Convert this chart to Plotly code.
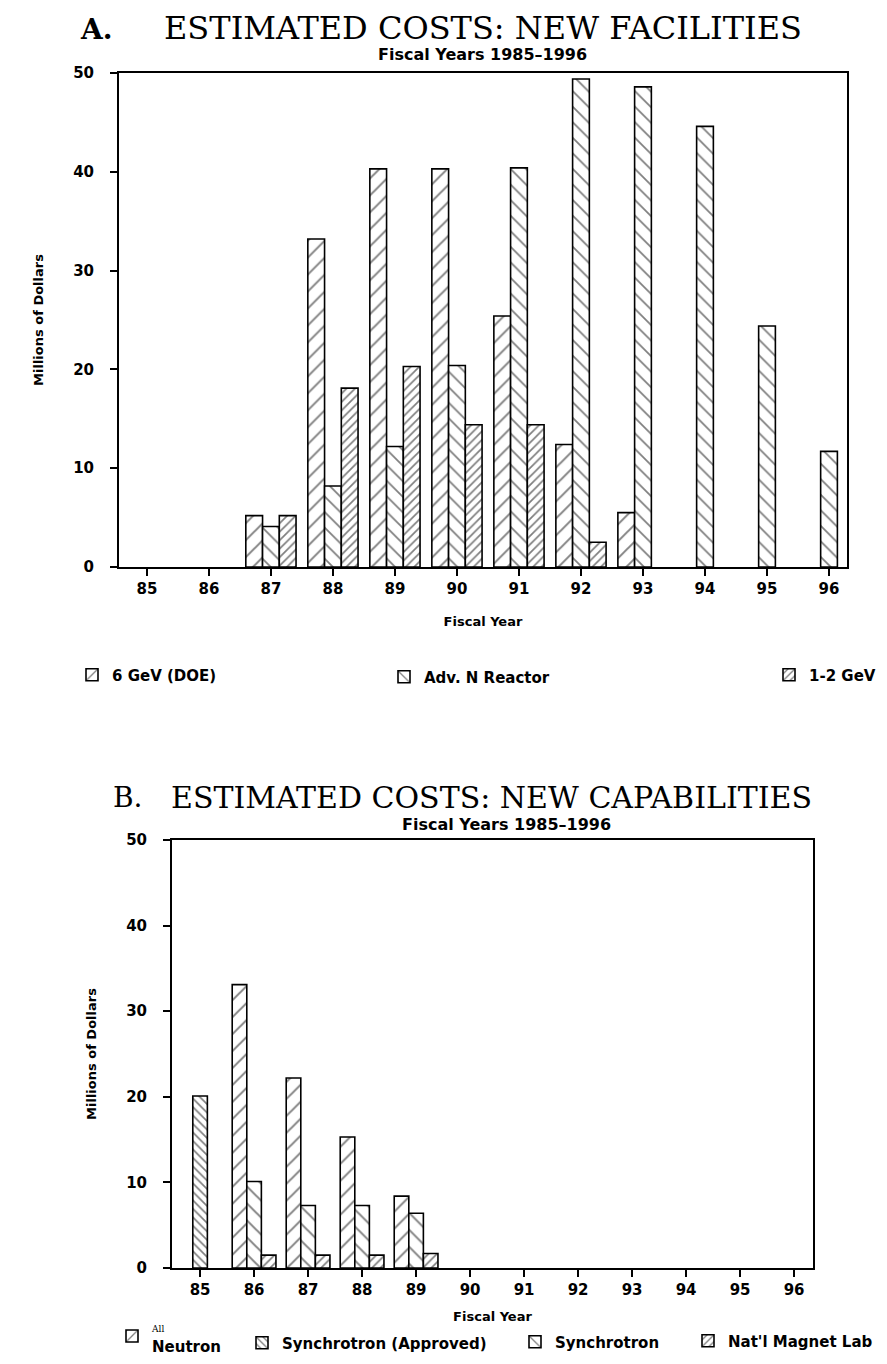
import plotly.graph_objects as go

# Browser window is 887x1364; the page body has an 8 px margin, so the figure
# is made 16 px smaller in each direction (no scrollbars) and offset by 8 px.
WIN_W, WIN_H = 887, 1364
PAGE_OFFSET = 8
W, H = WIN_W - 2 * PAGE_OFFSET, WIN_H - 2 * PAGE_OFFSET

# ---------------- data ----------------
years = [85, 86, 87, 88, 89, 90, 91, 92, 93, 94, 95, 96]
year_labels = ["85", "86", "87", "88", "89", "90", "91", "92", "93", "94", "95", "96"]
y_ticks = [0, 10, 20, 30, 40, 50]

# Panel A: new facilities (millions of dollars)
gev6_doe = [None, None, 5.2, 33.2, 40.3, 40.3, 25.4, 12.4, 5.5, None, None, None]
adv_n_reactor = [None, None, 4.1, 8.2, 12.2, 20.4, 40.4, 49.4, 48.6, 44.6, 24.4, 11.7]
gev1_2 = [None, None, 5.2, 18.1, 20.3, 14.4, 14.4, 2.5, None, None, None, None]

# Panel B: new capabilities (millions of dollars)
all_neutron = [None, 33.1, 22.2, 15.3, 8.4, None, None, None, None, None, None, None]
synch_approved = [20.1, None, None, None, None, None, None, None, None, None, None, None]
synchrotron = [None, 10.1, 7.3, 7.3, 6.4, None, None, None, None, None, None, None]
magnet_lab = [None, 1.5, 1.5, 1.5, 1.7, None, None, None, None, None, None, None]

# ---------------- helpers ----------------
def px_x(p):
    return (p - PAGE_OFFSET) / W

def px_y(p):
    return 1 - (p - PAGE_OFFSET) / H

SANS = "DejaVu Sans"
SERIF = "DejaVu Serif"

def bar(name, x, y, xa, ya, shape, size, solidity, legend, offsetgroup):
    return go.Bar(
        name=name, x=x, y=y, xaxis=xa, yaxis=ya,
        offsetgroup=offsetgroup, legend=legend,
        marker=dict(
            color="white",
            line=dict(color="black", width=1.6),
            pattern=dict(shape=shape, size=size, solidity=solidity,
                         fgcolor="black", bgcolor="white", fillmode="overlay"),
        ),
        hoverinfo="x+y+name",
    )

fig = go.Figure()

# Panel A
fig.add_trace(bar("6 GeV (DOE)", years, gev6_doe, "x", "y", "/", 12, 0.16, "legend", "a1"))
fig.add_trace(bar("Adv. N Reactor", years, adv_n_reactor, "x", "y", "\\", 11, 0.16, "legend2", "a2"))
fig.add_trace(bar("1-2 GeV", years, gev1_2, "x", "y", "/", 6, 0.28, "legend3", "a3"))

# Panel B
fig.add_trace(bar("<span style='font-family:DejaVu Serif;font-size:9px;font-weight:normal'>All</span><br>Neutron",
                  years, all_neutron, "x2", "y2", "/", 12, 0.16, "legend4", "b1"))
fig.add_trace(bar("Synchrotron (Approved)", years, synch_approved, "x2", "y2", "\\", 6, 0.28, "legend5", "b2"))
fig.add_trace(bar("Synchrotron", years, synchrotron, "x2", "y2", "\\", 12, 0.16, "legend6", "b2"))
fig.add_trace(bar("Nat'l Magnet Lab", years, magnet_lab, "x2", "y2", "/", 6, 0.28, "legend7", "b3"))

tick_font = dict(family=SANS, size=15, color="black", weight="bold")
title_font = dict(family=SANS, size=13, color="black", weight="bold")

def xaxis(domain, rng, standoff):
    return dict(
        domain=domain, range=rng, tickmode="array", tickvals=years, ticktext=year_labels,
        showline=True, linecolor="black", linewidth=2, mirror=True,
        ticks="outside", ticklen=7, tickwidth=1.5, tickcolor="black",
        tickfont=tick_font, showgrid=False, zeroline=False,
        title=dict(text="Fiscal Year", font=title_font, standoff=standoff),
        fixedrange=True, automargin=False,
    )

def yaxis(domain, anchor):
    return dict(
        domain=domain, range=[0, 50], tickmode="array", tickvals=y_ticks,
        showline=True, linecolor="black", linewidth=2, mirror=True,
        ticks="outside", ticklen=7, tickwidth=1.5, tickcolor="black",
        ticklabelstandoff=13,
        tickfont=tick_font, showgrid=False, zeroline=False, anchor=anchor,
        title=dict(text="Millions of Dollars", font=title_font, standoff=27),
        fixedrange=True, automargin=False,
    )

legend_common = dict(
    orientation="h", xanchor="left", yanchor="middle",
    font=dict(family=SANS, size=15, color="black", weight="bold"),
    bgcolor="rgba(0,0,0,0)", borderwidth=0,
)

def leg(text_left_px, y_px):
    d = dict(legend_common)
    d.update(x=px_x(text_left_px - 41), y=px_y(y_px))
    return d

fig.update_layout(
    width=W, height=H,
    margin=dict(l=0, r=0, t=0, b=0, autoexpand=False),
    paper_bgcolor="white", plot_bgcolor="white",
    barmode="group", bargap=0.19, bargroupgap=0.0,
    xaxis=xaxis([px_x(119), px_x(847)], [84.55, 96.29], 20) | dict(anchor="y"),
    yaxis=yaxis([px_y(567), px_y(73)], "x"),
    xaxis2=xaxis([px_x(172), px_x(813)], [84.48, 96.35], 14) | dict(anchor="y2"),
    yaxis2=yaxis([px_y(1268), px_y(840)], "x2"),
    legend=leg(113, 675),
    legend2=leg(425, 677),
    legend3=leg(810, 675),
    legend4=leg(153, 1336),
    legend5=leg(283, 1343),
    legend6=leg(556, 1342),
    legend7=leg(729, 1341),
    showlegend=True,
)

annotations = [
    dict(text="A.", x=px_x(96), y=px_y(29), font=dict(family=SERIF, size=28, color="black", weight="bold")),
    dict(text="ESTIMATED COSTS: NEW FACILITIES", x=px_x(483), y=px_y(28),
         font=dict(family=SERIF, size=32, color="black")),
    dict(text="Fiscal Years 1985\u20131996", x=px_x(482), y=px_y(54),
         font=dict(family=SANS, size=16, color="black", weight="bold")),
    dict(text="B.", x=px_x(128), y=px_y(797), font=dict(family=SERIF, size=28, color="black")),
    dict(text="ESTIMATED COSTS: NEW CAPABILITIES", x=px_x(491), y=px_y(797),
         font=dict(family=SERIF, size=30, color="black")),
    dict(text="Fiscal Years 1985\u20131996", x=px_x(506), y=px_y(824),
         font=dict(family=SANS, size=16, color="black", weight="bold")),
]
for a in annotations:
    a.update(xref="paper", yref="paper", showarrow=False, xanchor="center", yanchor="middle")
fig.update_layout(annotations=annotations)

fig.write_html("out.html")
